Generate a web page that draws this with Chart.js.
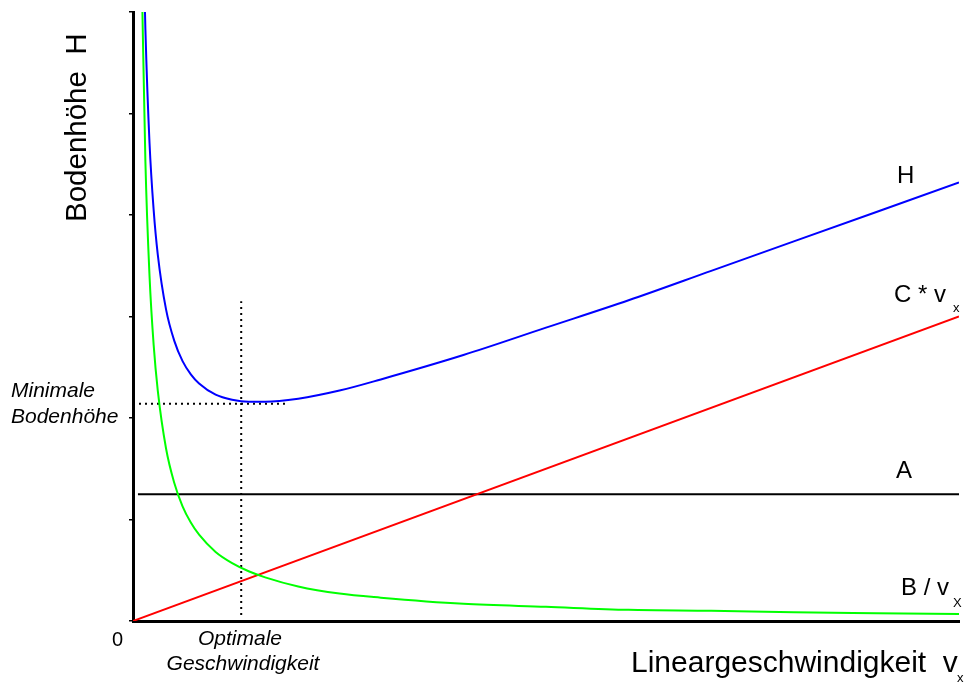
<!DOCTYPE html>
<html>
<head>
<meta charset="utf-8">
<script src="https://cdn.jsdelivr.net/npm/chart.js@4.4.1/dist/chart.umd.min.js"></script>
<style>
html,body{margin:0;padding:0;background:#fff;}
#wrap{width:969px;height:682px;}
</style>
</head>
<body>
<div id="wrap"><canvas id="c" width="969" height="682"></canvas></div>
<script>
// Linear velocity v_x (arbitrary units 0..100) and plate height (0..6)
const hVx    = [1.3, 1.5, 2, 2.5, 3, 4, 5, 6, 7, 8, 10, 12, 14, 16, 20, 25, 30, 40, 50, 60, 70, 80, 90, 100];
const hTotal = [6.52, 5.83, 4.71, 4.05, 3.61, 3.07, 2.76, 2.56, 2.43, 2.34, 2.23, 2.18, 2.16, 2.16, 2.19, 2.27, 2.38, 2.62, 2.89, 3.16, 3.45, 3.74, 4.03, 4.32];
const bVx    = [1.1, 1.5, 2, 2.5, 3, 4, 5, 6, 7, 8, 10, 12, 14, 16, 20, 25, 30, 40, 50, 60, 70, 80, 90, 100];
const bTerm  = [6.18, 4.53, 3.40, 2.72, 2.27, 1.70, 1.36, 1.13, 0.97, 0.85, 0.68, 0.57, 0.49, 0.43, 0.34, 0.27, 0.23, 0.17, 0.14, 0.11, 0.10, 0.085, 0.076, 0.068];
const cVx    = [0, 100];
const cTerm  = [0, 3.0];
const aVx    = [0.6, 100];
const aTerm  = [1.25, 1.25];
const optVx  = [13.1, 13.1];
const optY   = [0.06, 3.15];
const minVx  = [0, 18.4];
const minY   = [2.14, 2.14];
const yTicks = [0, 1, 2, 3, 4, 5, 6];

const pts = (xs, ys) => xs.map((x, i) => ({x: x, y: ys[i]}));

const textPlugin = {
  id: 'texts',
  afterDraw(chart) {
    const ctx = chart.ctx;
    ctx.save();
    ctx.fillStyle = '#000';
    ctx.textBaseline = 'alphabetic';
    const F = 'Liberation Sans, Arial, sans-serif';
    // y axis title (rotated)
    ctx.save();
    ctx.translate(86, 222);
    ctx.rotate(-Math.PI / 2);
    ctx.font = '29.5px ' + F;
    ctx.textAlign = 'left';
    ctx.fillText('Bodenhöhe  H', 0, 0);
    ctx.restore();
    // x axis title
    ctx.textAlign = 'left';
    ctx.font = '30px ' + F;
    ctx.fillText('Lineargeschwindigkeit  v', 631, 672);
    ctx.font = '13px ' + F;
    ctx.fillText('x', 957, 682);
    // zero
    ctx.font = '20px ' + F;
    ctx.fillText('0', 112, 646);
    // italic annotations
    ctx.font = 'italic 21px ' + F;
    ctx.textAlign = 'center';
    ctx.fillText('Optimale', 240, 645);
    ctx.fillText('Geschwindigkeit', 243, 670);
    ctx.textAlign = 'left';
    ctx.fillText('Minimale', 11, 397);
    ctx.fillText('Bodenhöhe', 11, 423);
    // curve labels
    ctx.font = '24px ' + F;
    ctx.fillText('H', 897, 183);
    ctx.fillText('C * v', 894, 302);
    ctx.fillText('A', 896, 478);
    ctx.fillText('B / v', 901, 595);
    ctx.font = '13px ' + F;
    ctx.fillText('x', 953, 312);
    ctx.fillText('X', 953, 607);
    ctx.restore();
  }
};

new Chart(document.getElementById('c'), {
  type: 'line',
  data: {
    datasets: [
      {data: pts(hVx, hTotal), borderColor: '#0000ff', borderWidth: 2, pointRadius: 0, cubicInterpolationMode: 'monotone', clip: 0},
      {data: pts(bVx, bTerm), borderColor: '#00ff00', borderWidth: 2, pointRadius: 0, cubicInterpolationMode: 'monotone', clip: 0},
      {data: pts(cVx, cTerm), borderColor: '#ff0000', borderWidth: 2, pointRadius: 0},
      {data: pts(aVx, aTerm), borderColor: '#000000', borderWidth: 2, pointRadius: 0},
      {data: pts(optVx, optY), borderColor: '#000000', borderWidth: 2, borderDash: [2, 4], pointRadius: 0},
      {data: pts(minVx, minY), borderColor: '#000000', borderWidth: 2, borderDash: [2, 4], pointRadius: 0}
    ]
  },
  options: {
    responsive: false,
    animation: false,
    devicePixelRatio: 1,
    layout: {padding: {left: 129, top: 12, right: 10, bottom: 61}},
    plugins: {legend: {display: false}, tooltip: {enabled: false}},
    scales: {
      x: {
        type: 'linear', min: 0, max: 100,
        ticks: {display: false},
        grid: {display: false, drawTicks: false, tickLength: 0},
        border: {display: true, color: '#000', width: 3}
      },
      y: {
        type: 'linear', min: 0, max: 6,
        afterBuildTicks: (s) => { s.ticks = yTicks.map(v => ({value: v})); },
        ticks: {display: false},
        grid: {display: true, drawOnChartArea: false, drawTicks: true, tickLength: 4, color: '#000', lineWidth: 1.5},
        border: {display: true, color: '#000', width: 3}
      }
    }
  },
  plugins: [textPlugin]
});
</script>
</body>
</html>
